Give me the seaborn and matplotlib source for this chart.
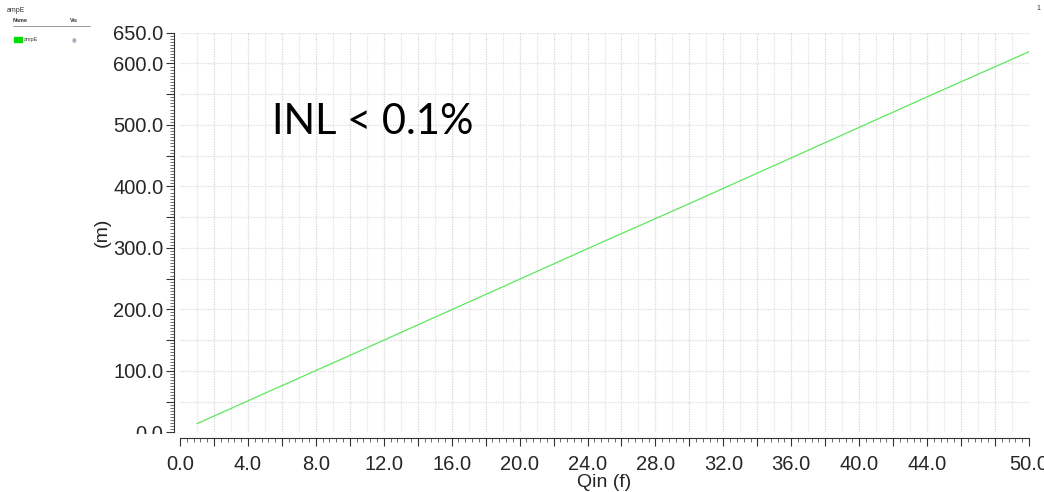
import numpy as np
import pandas as pd
import seaborn as sns
import matplotlib.pyplot as plt
from matplotlib.ticker import FixedLocator, MultipleLocator
from matplotlib.transforms import Bbox, TransformedBbox

# values
qin = [1, 5, 10, 15, 20, 25, 30, 35, 40, 45, 50]
out = [14, 63.5, 125, 187, 249, 311, 372, 434, 496, 558, 619]

x_label_pos = [0, 4, 8, 12, 16, 20, 24, 28, 32, 36, 40, 44, 50]
y_label_pos = [0, 100, 200, 300, 400, 500, 600, 650]

df = pd.DataFrame({'Qin': qin, 'ampE': out})

sns.set_style('white')
plt.rcParams['font.family'] = ['Liberation Sans', 'DejaVu Sans']

fig = plt.figure(figsize=(10.44, 4.92), dpi=100)
ax = fig.add_axes([180 / 1044, 1 - 432.3 / 492, 849 / 1044, 399.6 / 492])

# grid: every 1 f, every 50 m
for gx in np.arange(1, 50, 1):
    ax.axvline(gx, color='#e2e2e2' if gx % 2 else '#d6d6d6', lw=0.9, ls=(0, (1, 1)), zorder=0)
for gy in np.arange(50, 651, 50):
    ax.axhline(gy, color='#dcdcdc', lw=0.9, ls=(0, (1, 1)), zorder=0)

sns.lineplot(data=df, x='Qin', y='ampE', ax=ax, color='#5de85d', lw=0.9, legend=False)

ax.set_xlim(0, 50)
ax.set_ylim(0, 650)

ax.xaxis.set_major_locator(FixedLocator(np.arange(0, 51, 2)))
ax.xaxis.set_minor_locator(MultipleLocator(0.4))
ax.set_xticklabels(['%.1f' % v if v in x_label_pos else '' for v in np.arange(0, 51, 2)])
ax.yaxis.set_major_locator(FixedLocator(np.arange(0, 651, 50)))
ax.yaxis.set_minor_locator(MultipleLocator(5))
ax.set_yticklabels(['%.1f' % v if v in y_label_pos else '' for v in np.arange(0, 651, 50)])

ax.tick_params(axis='both', which='major', length=6, width=0.8, color='#333333',
               labelsize=14.5, pad=2, direction='out', bottom=True, left=True)
ax.tick_params(axis='both', which='minor', length=3, width=0.6, color='#555555',
               direction='out', bottom=True, left=True)
ax.tick_params(axis='x', pad=6)

for s in ['top', 'right']:
    ax.spines[s].set_visible(False)
for s in ['left', 'bottom']:
    ax.spines[s].set_position(('outward', 4))
    ax.spines[s].set_color('#333333')
    ax.spines[s].set_linewidth(0.8)

ax.set_xlabel('Qin (f)', fontsize=14, labelpad=0)
ax.set_ylabel('(m)', fontsize=14, labelpad=2)

# bottom "0.0" label is cut off in the original
fig.canvas.draw()
for t in ax.get_yticklabels():
    if t.get_text() == '0.0':
        t.set_clip_box(TransformedBbox(Bbox([[0, 1 - 434 / 492], [0.17, 1]]), fig.transFigure))
        t.set_clip_on(True)

ax.text(5.4, 485, 'INL < 0.1%', fontsize=30, family=['Lato', 'DejaVu Sans'], color='black')

# waveform browser legend panel
fig.text(7 / 1044, 1 - 10 / 492, 'ampE', fontsize=5, color='#333333', va='center')
fig.text(13 / 1044, 1 - 21 / 492, 'Name', fontsize=4, weight='bold', color='#333333', va='center')
fig.text(70 / 1044, 1 - 21 / 492, 'Vis', fontsize=4, weight='bold', color='#333333', va='center')
fig.add_artist(plt.Line2D([13 / 1044, 90 / 1044], [1 - 26 / 492, 1 - 26 / 492], color='#888888', lw=0.6))
fig.add_artist(plt.Rectangle((14 / 1044, 1 - 42 / 492), 8 / 1044, 5 / 492, color='#00dd00'))
fig.text(24 / 1044, 1 - 39.5 / 492, 'ampE', fontsize=4, color='#333333', va='center')
fig.text(74 / 1044, 1 - 39.5 / 492, '\u25c9', fontsize=4, color='#8899aa', va='center', ha='center')
fig.text(1036 / 1044, 1 - 8 / 492, '1', fontsize=5, color='#333333', va='center')

fig.savefig('out.png', dpi=100)
